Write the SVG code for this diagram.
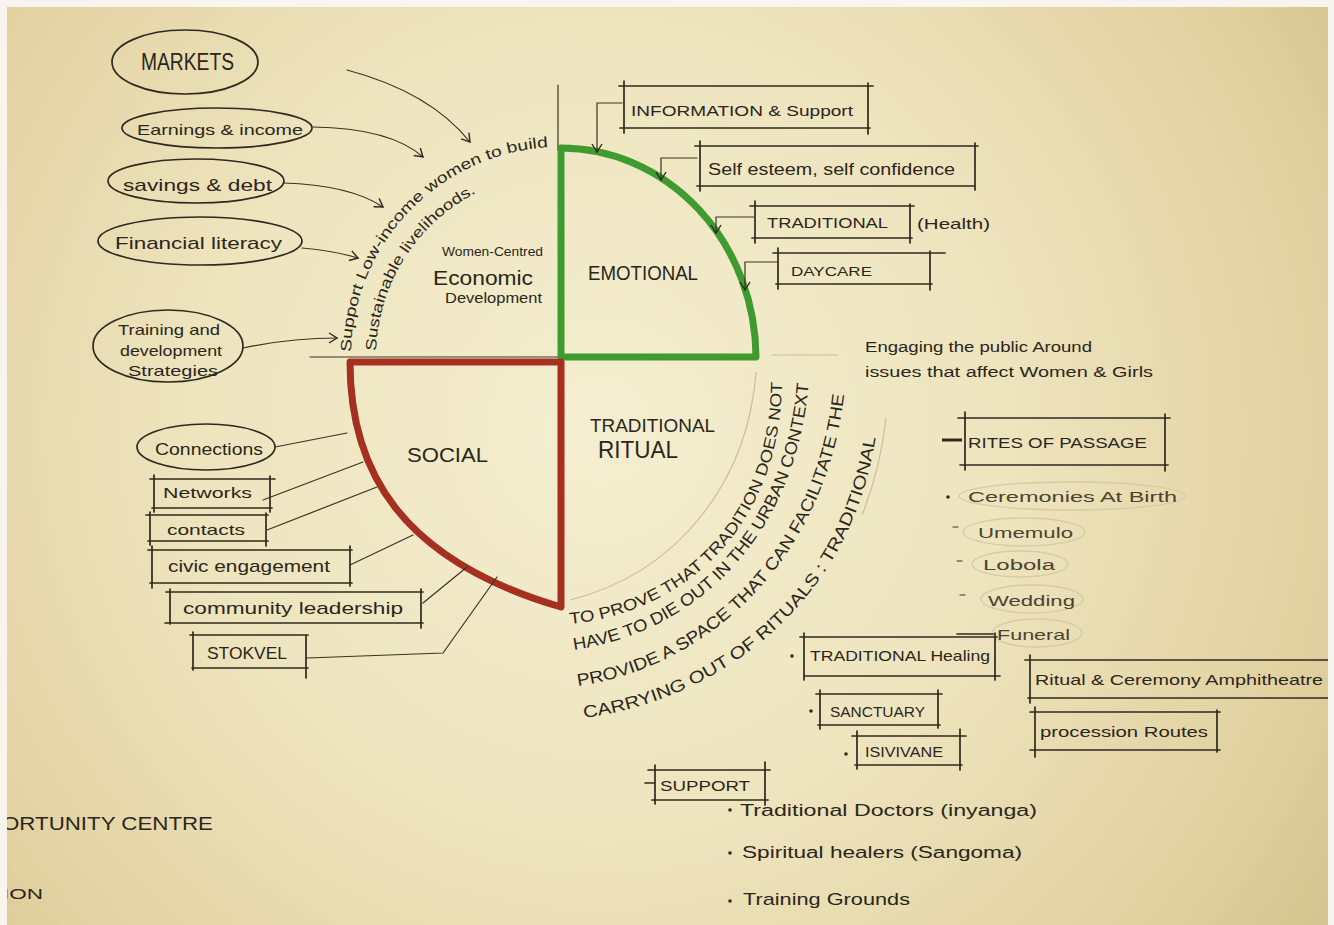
<svg xmlns="http://www.w3.org/2000/svg" width="1334" height="925" viewBox="0 0 1334 925">
<defs>
<radialGradient id="paper" cx="600" cy="430" r="900" gradientUnits="userSpaceOnUse">
<stop offset="0" stop-color="#F4EED0"/>
<stop offset="0.45" stop-color="#EEE4BE"/>
<stop offset="0.8" stop-color="#E2D2A2"/>
<stop offset="1" stop-color="#D2C28C"/>
</radialGradient>
<marker id="ah" markerWidth="12" markerHeight="12" refX="9" refY="6" orient="auto" markerUnits="userSpaceOnUse">
<path d="M1,1 L9,6 L1,11" fill="none" stroke="#2f2a1d" stroke-width="1.4"/>
</marker>
<path id="pA" d="M351,352 A210 210 0 0 1 553,147"/>
<path id="pB" d="M376,351 A185 185 0 0 1 480,191"/>
<path id="p1" d="M570,624 C690,612 785,520 782,372"/>
<path id="p2" d="M574,650 C700,632 805,530 810,360"/>
<path id="p3" d="M578,686 C720,665 835,545 846,374"/>
<path id="p4" d="M584,718 C720,700 860,600 878,418"/>
</defs>
<style>
.ink{fill:none;stroke:#2f2a1d;stroke-width:1.7;stroke-linecap:round}
.thin{fill:none;stroke:#3a3424;stroke-width:1.2;stroke-linecap:round}
.faint{fill:none;stroke:#c9bf98;stroke-width:1.2}
.light{fill:none;stroke:#d6cca6;stroke-width:1.4}
.t{font-family:"Liberation Sans",Arial,sans-serif;fill:#2b261a}
.tl{font-family:"Liberation Sans",Arial,sans-serif;fill:#4a4430}
.dot{fill:#2f2a1d}
</style>
<rect x="0" y="0" width="1334" height="925" fill="url(#paper)"/>

<!-- axes & quadrants -->
<g id="quadrants">
<path class="thin" d="M558,85 V150"/>
<path class="thin" d="M310,357 H561"/>
<path class="faint" d="M756,372 C748,480 680,572 570,600"/>
<path class="faint" d="M886,418 C882,455 874,485 862,515"/>
<path class="faint" d="M772,355 H838"/>
<path d="M561,357 V148 A195 210 0 0 1 756,357 Z" fill="none" stroke="#3f9a2f" stroke-width="7" stroke-linejoin="round"/>
<path d="M561,362 H350 C350,470 400,560 561,607 Z" fill="none" stroke="#a5301f" stroke-width="7" stroke-linejoin="round"/>
</g>

<g id="arc-economic">
<text class="t" font-size="15"><textPath href="#pA" textLength="312" lengthAdjust="spacingAndGlyphs">Support Low-income women to build</textPath></text>
<text class="t" font-size="15"><textPath href="#pB" textLength="196" lengthAdjust="spacingAndGlyphs">Sustainable livelihoods.</textPath></text>
</g>

<g id="arc-ritual">
<text class="t" font-size="16"><textPath href="#p1" textLength="355" lengthAdjust="spacingAndGlyphs">TO PROVE THAT TRADITION DOES NOT</textPath></text>
<text class="t" font-size="17"><textPath href="#p2" textLength="385" lengthAdjust="spacingAndGlyphs">HAVE TO DIE OUT IN THE URBAN CONTEXT</textPath></text>
<text class="t" font-size="17"><textPath href="#p3" textLength="425" lengthAdjust="spacingAndGlyphs">PROVIDE A SPACE THAT CAN FACILITATE THE</textPath></text>
<text class="t" font-size="17"><textPath href="#p4" textLength="435" lengthAdjust="spacingAndGlyphs">CARRYING OUT OF  RITUALS : TRADITIONAL</textPath></text>
</g>

<!-- connectors -->
<g id="connectors">
<path class="thin" marker-end="url(#ah)" d="M347,70 Q430,92 470,142"/>
<path class="thin" marker-end="url(#ah)" d="M313,127 Q390,128 423,157"/>
<path class="thin" marker-end="url(#ah)" d="M283,183 Q350,185 383,207"/>
<path class="thin" marker-end="url(#ah)" d="M302,248 Q335,251 358,258"/>
<path class="thin" marker-end="url(#ah)" d="M243,348 Q290,338 337,338"/>
<path class="thin" marker-end="url(#ah)" d="M622,103 H597 V152"/>
<path class="thin" marker-end="url(#ah)" d="M697,158 H661 V180"/>
<path class="thin" marker-end="url(#ah)" d="M754,217 H716 V233"/>
<path class="thin" marker-end="url(#ah)" d="M777,262 H745 V290"/>
<path class="thin" d="M275,447 L347,433"/>
<path class="thin" d="M263,500 L363,462"/>
<path class="thin" d="M267,530 L377,487"/>
<path class="thin" d="M350,565 L413,535"/>
<path class="thin" d="M423,603 L467,567"/>
<path class="thin" d="M307,658 L443,653 L497,577"/>
</g>

<!-- economic nodes -->
<g id="markets"><ellipse class="ink" cx="185" cy="62" rx="73" ry="32"/><text class="t" x="141" y="70" font-size="24" textLength="93" lengthAdjust="spacingAndGlyphs">MARKETS</text></g>
<g id="earnings"><ellipse class="ink" cx="217" cy="128" rx="95" ry="20"/><text class="t" x="137" y="135" font-size="15" textLength="166" lengthAdjust="spacingAndGlyphs">Earnings &amp; income</text></g>
<g id="savings"><ellipse class="ink" cx="196" cy="181" rx="88" ry="22"/><text class="t" x="123" y="191" font-size="17" textLength="149" lengthAdjust="spacingAndGlyphs">savings &amp; debt</text></g>
<g id="financial"><ellipse class="ink" cx="200" cy="241" rx="102" ry="24"/><text class="t" x="115" y="249" font-size="17" textLength="167" lengthAdjust="spacingAndGlyphs">Financial literacy</text></g>
<g id="training"><ellipse class="ink" cx="168" cy="346" rx="75" ry="36"/>
<text class="t" x="118" y="335" font-size="15" textLength="102" lengthAdjust="spacingAndGlyphs">Training and</text>
<text class="t" x="120" y="356" font-size="15" textLength="102" lengthAdjust="spacingAndGlyphs">development</text>
<text class="t" x="128" y="376" font-size="15" textLength="90" lengthAdjust="spacingAndGlyphs">Strategies</text></g>
<g id="economic">
<text class="t" x="442" y="256" font-size="12" textLength="101" lengthAdjust="spacingAndGlyphs">Women-Centred</text>
<text class="t" x="433" y="285" font-size="21" textLength="100" lengthAdjust="spacingAndGlyphs">Economic</text>
<text class="t" x="445" y="303" font-size="14" textLength="97" lengthAdjust="spacingAndGlyphs">Development</text></g>

<!-- emotional -->
<g id="emotional"><text class="t" x="588" y="280" font-size="21" textLength="110" lengthAdjust="spacingAndGlyphs">EMOTIONAL</text></g>
<g id="information"><path class="ink" d="M619,86 H873 M620,128 H870 M624,81 V133 M868,83 V134"/><text class="t" x="631" y="116" font-size="15" textLength="222" lengthAdjust="spacingAndGlyphs">INFORMATION &amp; Support</text></g>
<g id="selfesteem"><path class="ink" d="M695,146 H978 M697,186 H975 M700,141 V191 M975,143 V190"/><text class="t" x="708" y="175" font-size="16" textLength="247" lengthAdjust="spacingAndGlyphs">Self esteem,  self confidence</text></g>
<g id="traditional-health"><path class="ink" d="M750,206 H914 M752,238 H912 M755,201 V243 M910,204 V243"/><text class="t" x="767" y="228" font-size="14" textLength="121" lengthAdjust="spacingAndGlyphs">TRADITIONAL</text><text class="t" x="917" y="229" font-size="15" textLength="73" lengthAdjust="spacingAndGlyphs">(Health)</text></g>
<g id="daycare"><path class="ink" d="M773,253 H945 M776,284 H932 M778,248 V289 M930,251 V290"/><text class="t" x="791" y="276" font-size="13" textLength="81" lengthAdjust="spacingAndGlyphs">DAYCARE</text></g>
<g id="engaging">
<text class="t" x="865" y="352" font-size="14" textLength="227" lengthAdjust="spacingAndGlyphs">Engaging the public Around</text>
<text class="t" x="865" y="377" font-size="14" textLength="288" lengthAdjust="spacingAndGlyphs">issues that affect Women &amp; Girls</text></g>

<!-- social -->
<g id="social"><text class="t" x="407" y="462" font-size="20" textLength="81" lengthAdjust="spacingAndGlyphs">SOCIAL</text></g>
<g id="connections"><ellipse class="ink" cx="206" cy="447" rx="69" ry="23"/><text class="t" x="155" y="455" font-size="16" textLength="108" lengthAdjust="spacingAndGlyphs">Connections</text></g>
<g id="networks"><path class="ink" d="M150,479 H275 M152,508 H272 M154,475 V512 M270,476 V512"/><text class="t" x="163" y="498" font-size="15" textLength="89" lengthAdjust="spacingAndGlyphs">Networks</text></g>
<g id="contacts"><path class="ink" d="M146,515 H268 M148,541 H268 M150,512 V545 M266,513 V546"/><text class="t" x="167" y="535" font-size="15" textLength="78" lengthAdjust="spacingAndGlyphs">contacts</text></g>
<g id="civic"><path class="ink" d="M148,550 H352 M150,583 H352 M152,546 V588 M350,546 V586"/><text class="t" x="168" y="572" font-size="17" textLength="162" lengthAdjust="spacingAndGlyphs">civic engagement</text></g>
<g id="community"><path class="ink" d="M166,592 H423 M165,623 H423 M170,589 V624 M421,589 V628"/><text class="t" x="183" y="614" font-size="17" textLength="220" lengthAdjust="spacingAndGlyphs">community  leadership</text></g>
<g id="stokvel"><path class="ink" d="M190,635 H308 M192,668 H308 M193,632 V670 M306,636 V678"/><text class="t" x="207" y="659" font-size="17" textLength="80" lengthAdjust="spacingAndGlyphs">STOKVEL</text></g>

<!-- traditional ritual -->
<g id="ritual"><text class="t" x="590" y="432" font-size="19" textLength="125" lengthAdjust="spacingAndGlyphs">TRADITIONAL</text><text class="t" x="598" y="458" font-size="23" textLength="80" lengthAdjust="spacingAndGlyphs">RITUAL</text></g>
<g id="rites"><path class="ink" d="M958,418 H1170 M960,465 H1168 M965,412 V470 M1165,414 V471"/><path d="M942,440 H962" stroke="#2f2a1d" stroke-width="3"/><text class="t" x="968" y="448" font-size="15" textLength="179" lengthAdjust="spacingAndGlyphs">RITES OF PASSAGE</text></g>
<g id="birth"><ellipse class="light" cx="1072" cy="496" rx="113" ry="14"/><circle class="dot" cx="948" cy="497" r="1.8"/><text class="tl" x="968" y="502" font-size="15" textLength="209" lengthAdjust="spacingAndGlyphs">Ceremonies At Birth</text></g>
<g id="umemulo"><ellipse class="light" cx="1024" cy="532" rx="61" ry="14"/><path class="thin" d="M953,527 H958"/><text class="tl" x="978" y="538" font-size="14" textLength="95" lengthAdjust="spacingAndGlyphs">Umemulo</text></g>
<g id="lobola"><ellipse class="light" cx="1020" cy="564" rx="48" ry="13"/><path class="thin" d="M957,561 H962"/><text class="tl" x="983" y="570" font-size="14" textLength="72" lengthAdjust="spacingAndGlyphs">Lobola</text></g>
<g id="wedding"><ellipse class="light" cx="1032" cy="599" rx="51" ry="14"/><path class="thin" d="M960,595 H965"/><text class="tl" x="988" y="606" font-size="14" textLength="87" lengthAdjust="spacingAndGlyphs">Wedding</text></g>
<g id="funeral"><ellipse class="light" cx="1037" cy="633" rx="45" ry="14"/><text class="tl" x="997" y="640" font-size="15" textLength="73" lengthAdjust="spacingAndGlyphs">Funeral</text></g>
<g id="healing"><path class="ink" d="M800,637 H997 M804,676 H1000 M804,633 V680 M995,633 V680 M957,634 H993"/><circle class="dot" cx="792" cy="656" r="1.8"/><text class="t" x="810" y="661" font-size="15" textLength="180" lengthAdjust="spacingAndGlyphs">TRADITIONAL Healing</text></g>
<g id="sanctuary"><path class="ink" d="M816,694 H942 M818,725 H940 M820,690 V729 M938,690 V728"/><circle class="dot" cx="811" cy="711" r="1.8"/><text class="t" x="830" y="717" font-size="14" textLength="95" lengthAdjust="spacingAndGlyphs">SANCTUARY</text></g>
<g id="isivivane"><path class="ink" d="M852,736 H966 M855,765 H962 M857,731 V769 M960,729 V770"/><circle class="dot" cx="846" cy="754" r="1.8"/><text class="t" x="865" y="757" font-size="14" textLength="78" lengthAdjust="spacingAndGlyphs">ISIVIVANE</text></g>
<g id="amphitheatre"><path class="ink" d="M1025,660 H1334 M1028,698 H1334 M1030,655 V703"/><text class="t" x="1035" y="685" font-size="15" textLength="288" lengthAdjust="spacingAndGlyphs">Ritual &amp; Ceremony Amphitheatre</text></g>
<g id="procession"><path class="ink" d="M1030,712 H1220 M1030,750 H1220 M1035,707 V757 M1217,710 V752"/><text class="t" x="1040" y="737" font-size="15" textLength="168" lengthAdjust="spacingAndGlyphs">procession Routes</text></g>
<g id="support"><path class="ink" d="M648,770 H770 M652,800 H768 M655,765 V804 M765,762 V805 M645,783 H655"/><text class="t" x="660" y="791" font-size="15" textLength="90" lengthAdjust="spacingAndGlyphs">SUPPORT</text></g>
<g id="support-list">
<circle class="dot" cx="730" cy="810" r="1.8"/><text class="t" x="740" y="816" font-size="16" textLength="297" lengthAdjust="spacingAndGlyphs">Traditional Doctors  (inyanga)</text>
<circle class="dot" cx="730" cy="853" r="1.8"/><text class="t" x="742" y="858" font-size="16" textLength="280" lengthAdjust="spacingAndGlyphs">Spiritual healers  (Sangoma)</text>
<circle class="dot" cx="730" cy="901" r="1.8"/><text class="t" x="743" y="905" font-size="17" textLength="167" lengthAdjust="spacingAndGlyphs">Training Grounds</text>
</g>

<g id="title">
<text class="t" x="2" y="830" font-size="19" textLength="211" lengthAdjust="spacingAndGlyphs">ORTUNITY CENTRE</text>
<text class="t" x="3" y="899" font-size="14" textLength="40" lengthAdjust="spacingAndGlyphs">ION</text>
</g>

<!-- photo margins -->
<rect x="0" y="0" width="7" height="925" fill="#F7F5EE"/>
<rect x="0" y="0" width="1334" height="7" fill="#F7F5EE"/>
<rect x="1328" y="0" width="6" height="925" fill="#F7F5EE"/>
</svg>
